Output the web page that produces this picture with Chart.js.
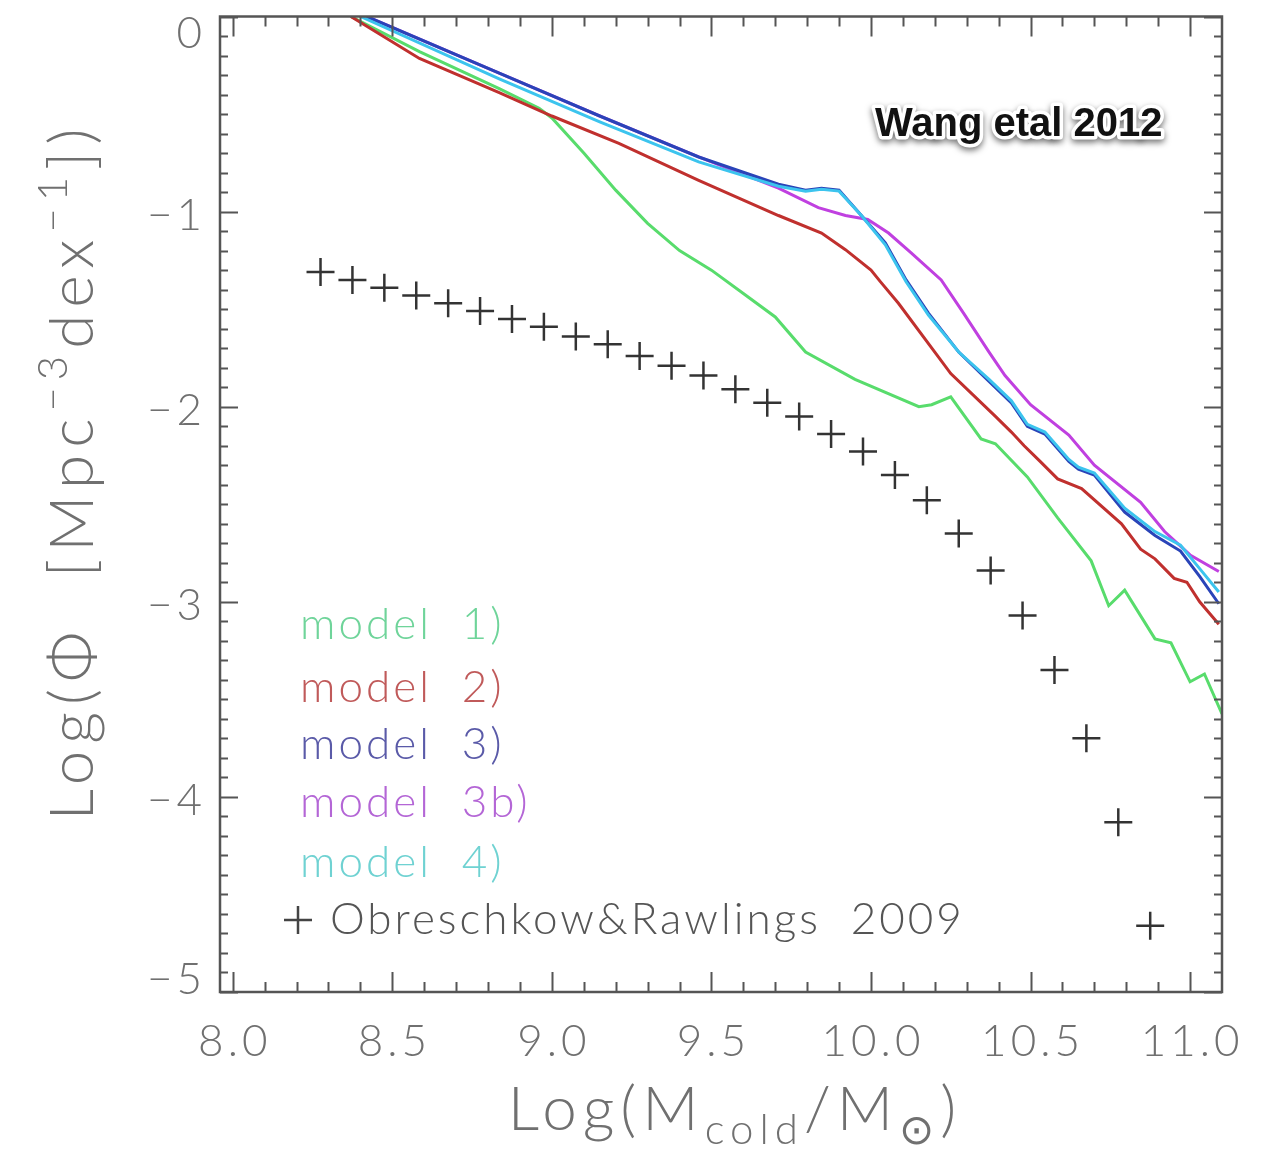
<!DOCTYPE html>
<html>
<head>
<meta charset="utf-8">
<script src="https://cdn.jsdelivr.net/npm/chart.js@4.4.0/dist/chart.umd.min.js"></script>
<style>
  html, body { margin: 0; padding: 0; background: #fff; }
</style>
</head>
<body>
<canvas id="mf" width="1264" height="1151"></canvas>
<script>
// cold gas mass function: log10(M_cold) vs log10(phi)
const model1Mass = [8.37, 8.585, 8.835, 8.96, 9.0, 9.10, 9.20, 9.30, 9.40, 9.50, 9.60, 9.70, 9.795, 9.95, 10.15, 10.19, 10.25, 10.345, 10.39, 10.49, 10.585, 10.69, 10.745, 10.795, 10.89, 10.94, 11.0, 11.045, 11.10];
const model1Phi = [0.0, -0.18, -0.37, -0.47, -0.52, -0.70, -0.89, -1.06, -1.20, -1.30, -1.42, -1.54, -1.72, -1.86, -2.00, -1.99, -1.95, -2.165, -2.19, -2.36, -2.57, -2.79, -3.02, -2.94, -3.19, -3.21, -3.41, -3.37, -3.575];

const model2Mass = [8.37, 8.585, 8.835, 9.0, 9.21, 9.46, 9.71, 9.845, 9.92, 10.0, 10.03, 10.086, 10.20, 10.25, 10.39, 10.44, 10.48, 10.53, 10.585, 10.66, 10.785, 10.845, 10.89, 10.95, 10.99, 11.03, 11.09];
const model2Phi = [0.0, -0.215, -0.39, -0.51, -0.65, -0.84, -1.02, -1.11, -1.195, -1.30, -1.36, -1.47, -1.72, -1.83, -2.05, -2.13, -2.20, -2.28, -2.37, -2.42, -2.60, -2.73, -2.78, -2.88, -2.90, -3.00, -3.115];

const model3Mass = [8.42, 8.835, 9.15, 9.46, 9.71, 9.795, 9.845, 9.90, 9.97, 10.045, 10.11, 10.18, 10.275, 10.37, 10.44, 10.49, 10.545, 10.62, 10.65, 10.70, 10.795, 10.89, 10.97, 11.03, 11.09];
const model3Phi = [0.0, -0.29, -0.51, -0.72, -0.86, -0.89, -0.88, -0.89, -1.02, -1.16, -1.35, -1.52, -1.72, -1.87, -1.98, -2.10, -2.14, -2.28, -2.32, -2.35, -2.54, -2.66, -2.74, -2.87, -3.01];

const model3bMass = [8.42, 8.835, 9.15, 9.46, 9.71, 9.835, 9.92, 9.99, 10.055, 10.125, 10.22, 10.29, 10.37, 10.42, 10.50, 10.62, 10.70, 10.845, 10.92, 11.0, 11.09];
const model3bPhi = [0.0, -0.29, -0.51, -0.72, -0.88, -0.98, -1.02, -1.04, -1.11, -1.21, -1.35, -1.52, -1.72, -1.84, -1.99, -2.145, -2.30, -2.49, -2.64, -2.76, -2.845];

const model4Mass = [8.40, 8.835, 9.15, 9.46, 9.71, 9.795, 9.845, 9.90, 9.97, 10.045, 10.11, 10.18, 10.275, 10.37, 10.44, 10.49, 10.545, 10.62, 10.65, 10.70, 10.795, 10.89, 10.97, 11.03, 11.09];
const model4Phi = [0.0, -0.32, -0.54, -0.745, -0.87, -0.895, -0.885, -0.895, -1.02, -1.17, -1.36, -1.53, -1.72, -1.86, -1.97, -2.09, -2.13, -2.27, -2.31, -2.34, -2.52, -2.64, -2.71, -2.83, -2.95];

// Obreschkow & Rawlings 2009 points
const obsMass = [8.275, 8.375, 8.475, 8.575, 8.675, 8.775, 8.875, 8.975, 9.075, 9.175, 9.275, 9.375, 9.475, 9.575, 9.675, 9.775, 9.875, 9.975, 10.075, 10.175, 10.275, 10.375, 10.475, 10.575, 10.675, 10.775, 10.875];
const obsPhi = [-1.31, -1.35, -1.39, -1.43, -1.47, -1.51, -1.55, -1.59, -1.64, -1.68, -1.74, -1.79, -1.84, -1.91, -1.98, -2.05, -2.14, -2.23, -2.35, -2.48, -2.65, -2.84, -3.07, -3.35, -3.70, -4.13, -4.66];

const xTickValues = [8.0, 8.5, 9.0, 9.5, 10.0, 10.5, 11.0];
const xTickLabels = ['8.0', '8.5', '9.0', '9.5', '10.0', '10.5', '11.0'];
const yTickValues = [0, -1, -2, -3, -4, -5];
const yTickLabels = ['0', '\u22121', '\u22122', '\u22123', '\u22124', '\u22125'];

const legendNames = ['model  1)', 'model  2)', 'model  3)', 'model  3b)', 'model  4)'];
const legendColors = ['#6fd49a', '#c05a5a', '#5a5aa8', '#b466d6', '#6fd2d2'];

const pairs = (xs, ys) => xs.map((v, i) => ({ x: v, y: ys[i] }));

const lineSet = (label, xs, ys, color) => ({
    label: label,
    data: pairs(xs, ys),
    borderColor: color,
    borderWidth: 3,
    pointRadius: 0,
    tension: 0,
    fill: false
});

const FONT = 'Lato, "DejaVu Sans", sans-serif';
const GREY = '#707070';

// draws a string made of parts with different sizes / baseline shifts, centred on cx
const drawParts = (ctx, parts, cx, baseline, spacing) => {
    ctx.letterSpacing = spacing + 'px';
    let total = 0;
    parts.forEach(p => {
        ctx.font = '300 ' + p.size + 'px ' + FONT;
        p.w = ctx.measureText(p.t).width;
        total += p.w;
    });
    let x = cx - total / 2;
    ctx.textAlign = 'left';
    ctx.textBaseline = 'alphabetic';
    parts.forEach(p => {
        ctx.font = '300 ' + p.size + 'px ' + FONT;
        ctx.fillText(p.t, x, baseline + (p.dy || 0));
        x += p.w;
    });
    ctx.letterSpacing = '0px';
};

const idlAxes = {
    id: 'idlAxes',
    afterDatasetsDraw(chart) {
        const ctx = chart.ctx;
        const a = chart.chartArea;
        const xs = chart.scales.x, ys = chart.scales.y;
        ctx.save();
        ctx.strokeStyle = '#555';
        ctx.lineWidth = 2.5;
        ctx.strokeRect(a.left, a.top, a.right - a.left, a.bottom - a.top);

        // inward ticks, minor every 0.1
        ctx.lineWidth = 2;
        ctx.beginPath();
        for (let i = 80; i <= 111; i++) {
            const px = Math.round(xs.getPixelForValue(i / 10)) + 0.5;
            if (px < a.left || px > a.right) continue;
            const len = i % 5 === 0 ? 20 : 10;
            ctx.moveTo(px, a.bottom); ctx.lineTo(px, a.bottom - len);
            ctx.moveTo(px, a.top); ctx.lineTo(px, a.top + len);
        }
        for (let i = 0; i <= 50; i++) {
            const py = Math.round(ys.getPixelForValue(-i / 10)) + 0.5;
            const len = i % 10 === 0 ? 18 : 8;
            ctx.moveTo(a.left, py); ctx.lineTo(a.left + len, py);
            ctx.moveTo(a.right, py); ctx.lineTo(a.right - len, py);
        }
        ctx.stroke();
        ctx.restore();
    },
    afterDraw(chart) {
        const ctx = chart.ctx;
        const a = chart.chartArea;
        const xs = chart.scales.x, ys = chart.scales.y;
        ctx.save();
        ctx.fillStyle = GREY;
        ctx.font = '300 44px ' + FONT;
        ctx.letterSpacing = '4px';

        // tick labels
        ctx.textAlign = 'center';
        ctx.textBaseline = 'middle';
        xTickValues.forEach((v, i) => {
            ctx.fillText(xTickLabels[i], xs.getPixelForValue(v) + 2, a.bottom + 50);
        });
        ctx.textAlign = 'right';
        yTickValues.forEach((v, i) => {
            let py = ys.getPixelForValue(v) + 4;
            py = Math.min(Math.max(py, a.top + 17), a.bottom - 12);
            ctx.fillText(yTickLabels[i], a.left - 14, py);
        });
        ctx.letterSpacing = '0px';

        // axis titles
        drawParts(ctx, [
            { t: 'Log(M', size: 62 },
            { t: 'cold', size: 42, dy: 14 },
            { t: '/M', size: 62 },
            { t: '\u2299', size: 42, dy: 14 },
            { t: ')', size: 62 }
        ], 735, 1130, 6);

        ctx.save();
        ctx.translate(93, 471);
        ctx.rotate(-Math.PI / 2);
        drawParts(ctx, [
            { t: 'Log(\u03A6  [Mpc', size: 62 },
            { t: '\u22123', size: 42, dy: -26 },
            { t: 'dex', size: 62 },
            { t: '\u22121', size: 42, dy: -26 },
            { t: '])', size: 62 }
        ], 0, 0, 7);
        ctx.restore();

        // legend as coloured text
        ctx.textAlign = 'left';
        ctx.textBaseline = 'middle';
        ctx.font = '300 44px ' + FONT;
        ctx.letterSpacing = '3px';
        const rows = [625, 688, 745, 803, 863];
        legendNames.forEach((name, i) => {
            ctx.fillStyle = legendColors[i];
            ctx.fillText(name, 300, rows[i]);
        });
        ctx.fillStyle = '#555';
        ctx.fillText('Obreschkow&Rawlings  2009', 330, 920);
        ctx.letterSpacing = '0px';
        ctx.strokeStyle = '#444';
        ctx.lineWidth = 2.5;
        ctx.beginPath();
        ctx.moveTo(284, 920); ctx.lineTo(312, 920);
        ctx.moveTo(298, 906); ctx.lineTo(298, 934);
        ctx.stroke();

        // citation tag with halo and shadow
        ctx.font = 'bold 40px "Liberation Sans", Arial, sans-serif';
        ctx.textBaseline = 'alphabetic';
        ctx.shadowColor = 'rgba(0,0,0,0.55)';
        ctx.shadowBlur = 6;
        ctx.shadowOffsetY = 3;
        ctx.strokeStyle = '#fff';
        ctx.lineWidth = 7;
        ctx.lineJoin = 'round';
        ctx.strokeText('Wang etal 2012', 875, 136);
        ctx.shadowColor = 'transparent';
        ctx.fillStyle = '#111';
        ctx.fillText('Wang etal 2012', 875, 136);
        ctx.restore();
    }
};

new Chart(document.getElementById('mf'), {
    type: 'line',
    data: {
        datasets: [
            {
                label: 'Obreschkow&Rawlings 2009',
                data: pairs(obsMass, obsPhi),
                showLine: false,
                pointStyle: 'cross',
                pointRadius: 14,
                pointBorderWidth: 2.5,
                borderColor: '#333',
                backgroundColor: '#333'
            },
            lineSet('model 4)', model4Mass, model4Phi, '#3cc4ee'),
            lineSet('model 3)', model3Mass, model3Phi, '#2a44b8'),
            lineSet('model 3b)', model3bMass, model3bPhi, '#c040e0'),
            lineSet('model 2)', model2Mass, model2Phi, '#c0302e'),
            lineSet('model 1)', model1Mass, model1Phi, '#58dc6c')
        ]
    },
    options: {
        responsive: false,
        animation: false,
        layout: { padding: { left: 220, right: 42, top: 13, bottom: 159 } },
        plugins: { legend: { display: false }, tooltip: { enabled: false } },
        scales: {
            x: { type: 'linear', min: 7.96, max: 11.1, display: false },
            y: { type: 'linear', min: -5, max: 0, display: false }
        }
    },
    plugins: [idlAxes]
});
</script>
</body>
</html>
